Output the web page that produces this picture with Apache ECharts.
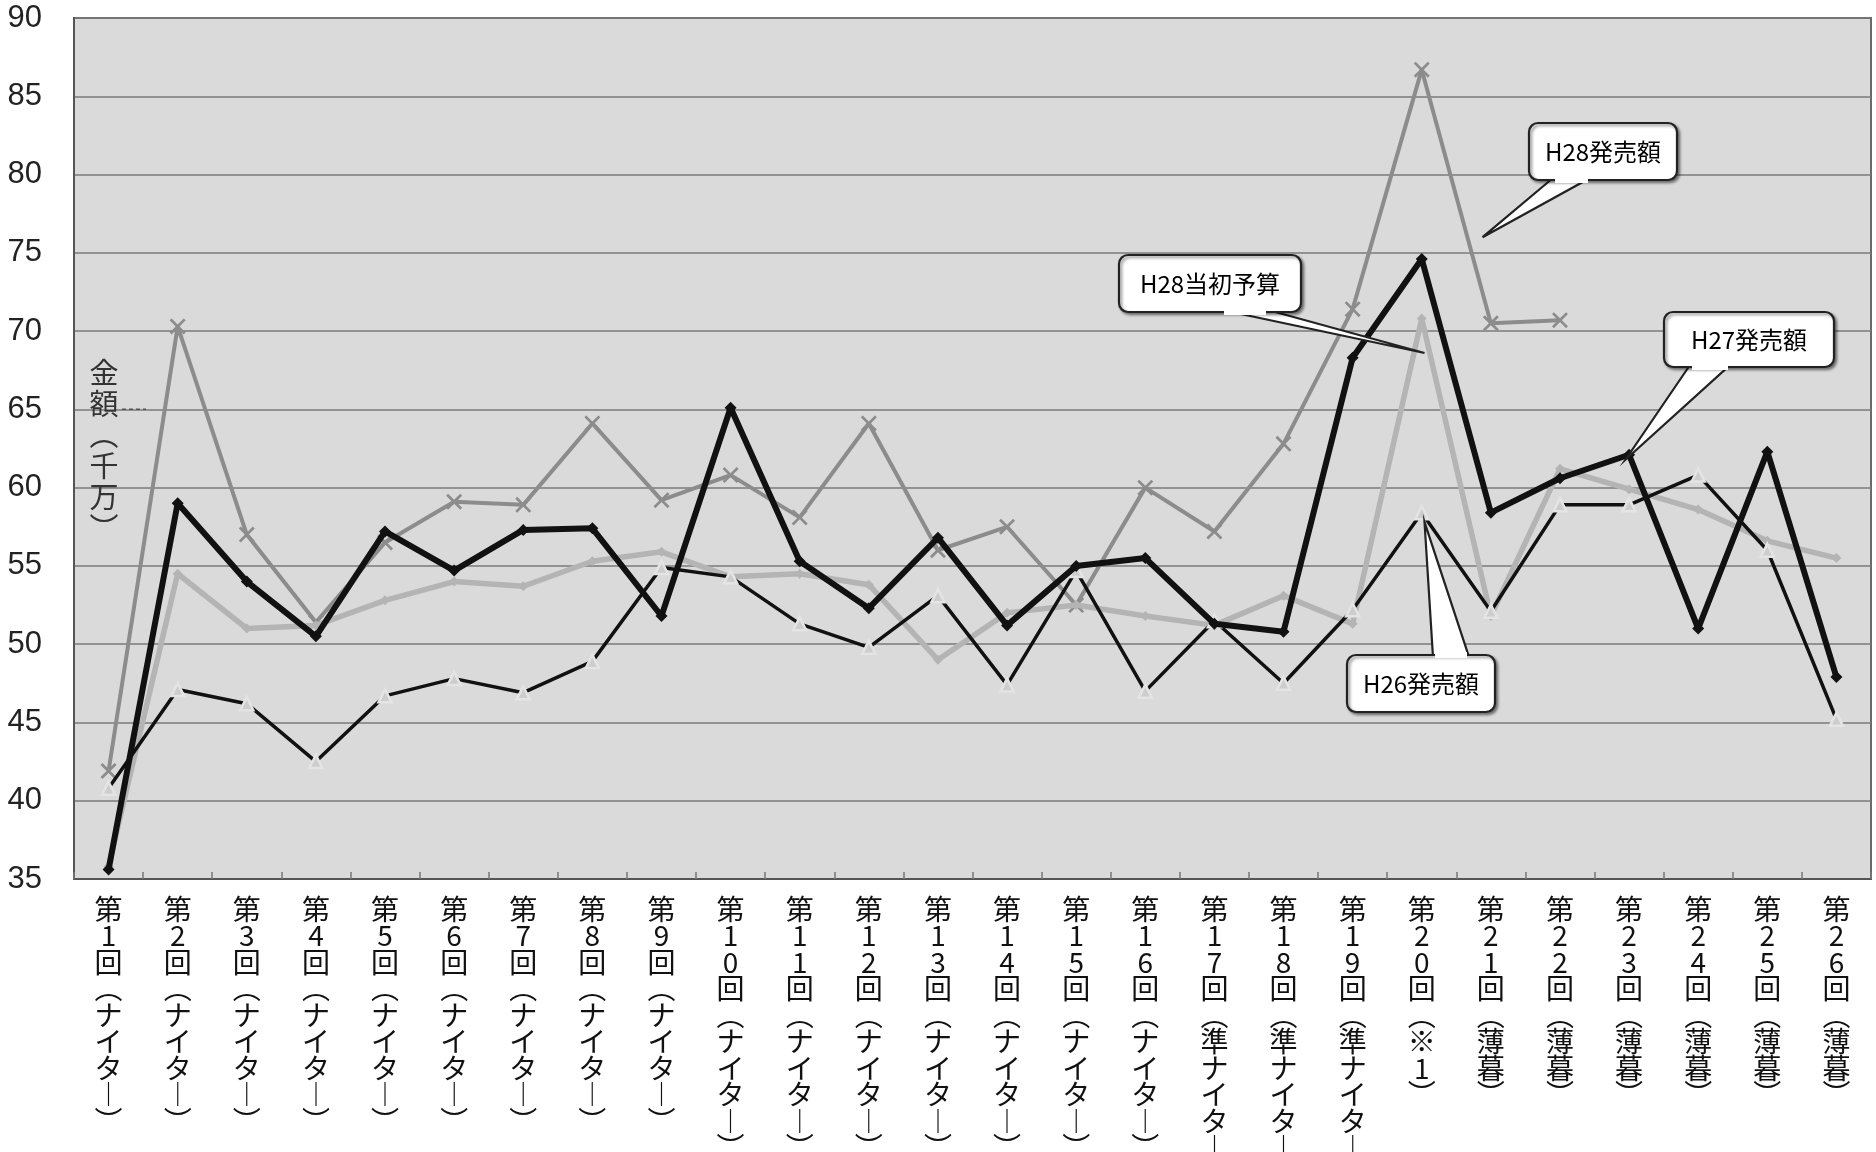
<!DOCTYPE html>
<html><head><meta charset="utf-8">
<script src="https://cdn.jsdelivr.net/npm/echarts@6/dist/echarts.min.js"></script>
<style>html,body{margin:0;padding:0;background:#fff}#c{width:1876px;height:1152px}</style>
</head><body><div id="c"></div>
<script>
// ---- data ----
const categories = [
  '第1回（ナイター）','第2回（ナイター）','第3回（ナイター）','第4回（ナイター）','第5回（ナイター）',
  '第6回（ナイター）','第7回（ナイター）','第8回（ナイター）','第9回（ナイター）','第10回（ナイター）',
  '第11回（ナイター）','第12回（ナイター）','第13回（ナイター）','第14回（ナイター）','第15回（ナイター）',
  '第16回（ナイター）','第17回（準ナイター）','第18回（準ナイター）','第19回（準ナイター）','第20回（※1）',
  '第21回（薄暮）','第22回（薄暮）','第23回（薄暮）','第24回（薄暮）','第25回（薄暮）','第26回（薄暮）'
];
const h28Sales  = [41.9, 70.3, 57.0, 51.4, 56.5, 59.1, 58.9, 64.1, 59.2, 60.8, 58.1, 64.1, 56.0, 57.5, 52.5, 60.0, 57.2, 62.8, 71.4, 86.7, 70.5, 70.7];
const h28Budget = [35.8, 54.5, 51.0, 51.2, 52.8, 54.0, 53.7, 55.3, 55.9, 54.3, 54.5, 53.8, 49.0, 52.0, 52.5, 51.8, 51.2, 53.1, 51.3, 70.8, 51.8, 61.2, 59.9, 58.6, 56.6, 55.5];
const h27Sales  = [35.6, 59.0, 54.0, 50.5, 57.2, 54.7, 57.3, 57.4, 51.8, 65.1, 55.3, 52.3, 56.8, 51.2, 55.0, 55.5, 51.3, 50.8, 68.3, 74.6, 58.4, 60.6, 62.1, 51.0, 62.3, 47.9];
const h26Sales  = [40.8, 47.1, 46.2, 42.5, 46.7, 47.8, 46.9, 48.9, 54.9, 54.3, 51.3, 49.8, 53.1, 47.4, 54.7, 47.0, 51.5, 47.5, 52.2, 58.4, 52.1, 58.9, 58.9, 60.8, 56.0, 45.2];
const yMin = 35, yMax = 90, yInterval = 5;
const axisName = '金額（千万）';
// callout labels; tip = [category position, value]
const callouts = [
  { text: 'H28発売額',   tip: [19.88, 76.0] },
  { text: 'H28当初予算', tip: [19.04, 68.6] },
  { text: 'H27発売額',   tip: [21.95, 61.8] },
  { text: 'H26発売額',   tip: [19.04, 57.8] }
];
// ---- layout (pixels) for the callouts ----
const calloutLayout = [
  { box: [1529, 123, 148, 57], side: 'bottom', base: [1553, 1590] },
  { box: [1119, 255, 182, 57], side: 'bottom', base: [1222, 1268] },
  { box: [1664, 312, 170, 55], side: 'bottom', base: [1690, 1730] },
  { box: [1347, 655, 148, 57], side: 'top',    base: [1433, 1469] }
];

const vmap = { '（': '︵', '）': '︶', 'ー': '︱' };
function vertical(s) { return Array.from(s).map(ch => vmap[ch] || ch).join('\n'); }

const chart = echarts.init(document.getElementById('c'), null, { renderer: 'canvas' });
const crossPath = 'path://M0,1.2L1.2,0L5,3.8L8.8,0L10,1.2L6.2,5L10,8.8L8.8,10L5,6.2L1.2,10L0,8.8L3.8,5Z';

chart.setOption({
  animation: false,
  backgroundColor: '#ffffff',
  grid: { left: 74, right: 5, top: 18, bottom: 273, containLabel: false, outerBoundsMode: 'none',
    show: true, backgroundColor: '#dadada', borderColor: '#6a6a6a', borderWidth: 2 },
  xAxis: {
    type: 'category', data: categories, boundaryGap: true,
    axisLine: { lineStyle: { color: '#555', width: 2 } },
    axisTick: { show: true, inside: true, length: 7, lineStyle: { color: '#777', width: 1.5 } },
    axisLabel: {
      interval: 0, margin: 17, color: '#111', fontSize: 28, lineHeight: 26.5,
      fontFamily: '"Noto Sans CJK JP", sans-serif',
      formatter: v => vertical(v)
    },
    splitLine: { show: false }
  },
  yAxis: {
    type: 'value', min: yMin, max: yMax, interval: yInterval,
    axisLine: { show: true, lineStyle: { color: '#555', width: 2 } },
    axisTick: { show: false },
    axisLabel: { color: '#222', fontSize: 31, margin: 32, fontFamily: '"Liberation Sans Narrow", "Liberation Sans", sans-serif' },
    splitLine: { lineStyle: { color: '#7a7a7a', width: 1.6 } }
  },
  series: [
    { name: 'H28発売額', type: 'line', data: h28Sales, symbol: crossPath, symbolSize: 16, z: 2,
      lineStyle: { color: '#8c8c8c', width: 4 }, itemStyle: { color: '#8c8c8c' } },
    { name: 'H28当初予算', type: 'line', data: h28Budget, symbol: 'diamond', symbolSize: 10, z: 3,
      lineStyle: { color: '#b4b4b4', width: 5.5 }, itemStyle: { color: '#b4b4b4' } },
    { name: 'H26発売額', type: 'line', data: h26Sales, symbol: 'triangle', symbolSize: 13, z: 4,
      lineStyle: { color: '#111', width: 3.5 }, itemStyle: { color: '#cdcdcd', borderColor: '#e4e4e4', borderWidth: 2.5 } },
    { name: 'H27発売額', type: 'line', data: h27Sales, symbol: 'diamond', symbolSize: 12, z: 5,
      lineStyle: { color: '#111', width: 6 }, itemStyle: { color: '#111' } }
  ]
});

function px(pos, v) {
  const i0 = Math.floor(pos), i1 = Math.min(i0 + 1, categories.length - 1), t = pos - i0;
  const a = chart.convertToPixel({ gridIndex: 0 }, [i0, v]);
  const b = chart.convertToPixel({ gridIndex: 0 }, [i1, v]);
  return [a[0] + (b[0] - a[0]) * t, a[1]];
}

const g = [];
callouts.forEach((c, k) => {
  const L = calloutLayout[k];
  const [bx, by, bw, bh] = L.box;
  const tip = px(c.tip[0], c.tip[1]);
  const ey = L.side === 'bottom' ? by + bh : by;
  const inward = L.side === 'bottom' ? -2 : 2;
  g.push({ type: 'polygon', z: 100, shape: { points: [[L.base[0], ey + inward], tip, [L.base[1], ey + inward]] },
    style: { fill: '#fff', stroke: '#222', lineWidth: 2.2, lineJoin: 'miter' } });
  g.push({ type: 'rect', z: 101, shape: { x: bx, y: by, width: bw, height: bh, r: 9 },
    style: { fill: '#fff', stroke: '#222', lineWidth: 2.2, shadowBlur: 3, shadowOffsetX: 2, shadowOffsetY: 2, shadowColor: 'rgba(0,0,0,0.45)' } });
  g.push({ type: 'rect', z: 102, shape: { x: L.base[0] + 2, y: ey - 3, width: L.base[1] - L.base[0] - 4, height: 6 },
    style: { fill: '#fff' } });
  g.push({ type: 'text', z: 103, style: { text: c.text, x: bx + bw / 2, y: by + bh / 2, align: 'center', verticalAlign: 'middle',
    fill: '#000', fontSize: 24, fontFamily: '"Noto Sans CJK JP", sans-serif' } });
});
// axis name and its short dashed leader
const p65 = chart.convertToPixel({ gridIndex: 0 }, [0, 65]);
g.push({ type: 'text', z: 90, style: { text: vertical(axisName), x: 104, y: 357, align: 'center', verticalAlign: 'top',
  fill: '#333', fontSize: 29, lineHeight: 31, fontFamily: '"Noto Sans CJK JP", sans-serif' } });
g.push({ type: 'line', z: 90, shape: { x1: 122, y1: p65[1], x2: 146, y2: p65[1] },
  style: { stroke: '#555', lineWidth: 1.5, lineDash: [4, 3] } });
chart.setOption({ graphic: g });
</script>
</body></html>
